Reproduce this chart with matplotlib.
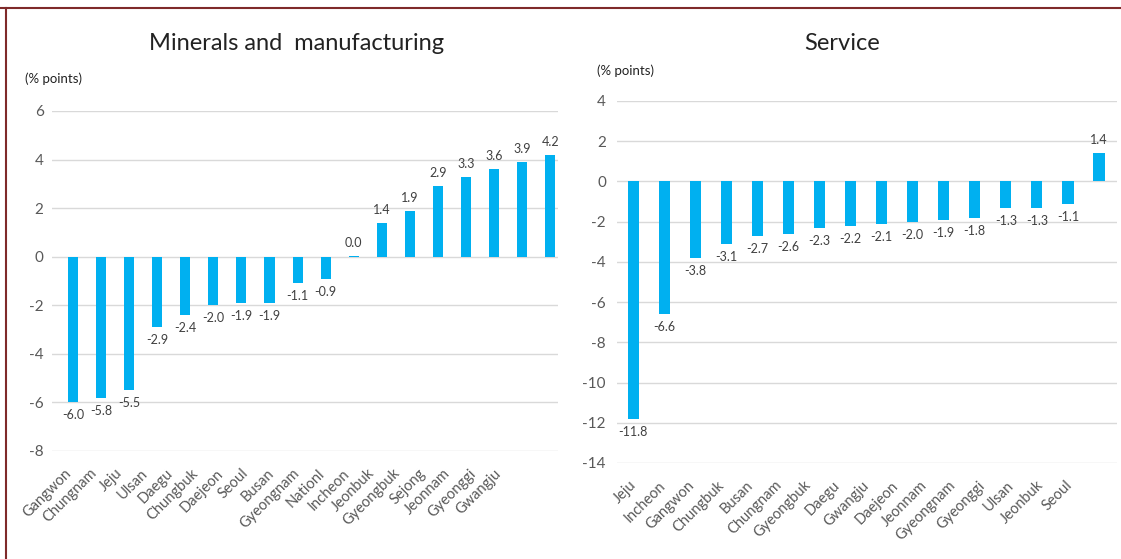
import matplotlib
matplotlib.use("Agg")
import matplotlib.pyplot as plt
from matplotlib.lines import Line2D

plt.rcParams['font.family'] = ['Lato', 'DejaVu Sans']

# left panel: minerals and manufacturing
mfg_regions = ['Gangwon', 'Chungnam', 'Jeju', 'Ulsan', 'Daegu', 'Chungbuk', 'Daejeon', 'Seoul',
               'Busan', 'Gyeongnam', 'Nationl', 'Incheon', 'Jeonbuk', 'Gyeongbuk', 'Sejong',
               'Jeonnam', 'Gyeonggi', 'Gwangju']
mfg_values = [-6.0, -5.8, -5.5, -2.9, -2.4, -2.0, -1.9, -1.9, -1.1, -0.9, 0.04, 1.4, 1.9, 2.9,
              3.3, 3.6, 3.9, 4.2]
mfg_ticks = [6, 4, 2, 0, -2, -4, -6, -8]

# right panel: service
svc_regions = ['Jeju', 'Incheon', 'Gangwon', 'Chungbuk', 'Busan', 'Chungnam', 'Gyeongbuk', 'Daegu',
               'Gwangju', 'Daejeon', 'Jeonnam', 'Gyeongnam', 'Gyeonggi', 'Ulsan', 'Jeonbuk', 'Seoul']
svc_values = [-11.8, -6.6, -3.8, -3.1, -2.7, -2.6, -2.3, -2.2, -2.1, -2.0, -1.9, -1.8, -1.3, -1.3,
              -1.1, 1.4]
svc_ticks = [4, 2, 0, -2, -4, -6, -8, -10, -12, -14]

BAR = '#00B0F0'
GRID = '#d9d9d9'
TXT = '#595959'

W, H = 1121, 559
fig = plt.figure(figsize=(W / 100, H / 100), dpi=100)


def px_axes(x0, x1, y0, y1):
    # y0 = top pixel, y1 = bottom pixel
    return fig.add_axes([x0 / W, 1 - y1 / H, (x1 - x0) / W, (y1 - y0) / H])


def draw(ax, names, vals, ticks, xlim, off, lab_start, lab_step):
    x = range(len(names))
    ax.bar(x, vals, width=0.36, color=BAR, zorder=3)
    for i, v in zip(x, vals):
        if v >= 0:
            ax.annotate('%.1f' % v, (i, v), xytext=(0, 5), textcoords='offset points',
                        ha='center', va='bottom', fontsize=9, color='#404040')
        else:
            ax.annotate('%.1f' % v, (i, v), xytext=(0, -5), textcoords='offset points',
                        ha='center', va='top', fontsize=9, color='#404040')
    ax.set_ylim(min(ticks), max(ticks))
    ax.set_xlim(*xlim)
    ax.set_yticks(ticks)
    ax.set_yticklabels([str(t) for t in ticks])
    # category labels in the source sit a bit tighter than the bars
    ax.set_xticks([lab_start + i * lab_step for i in x])
    ax.set_xticklabels(names, rotation=45, ha='right', rotation_mode='anchor')
    ax.tick_params(axis='both', length=0, colors=TXT)
    ax.tick_params(axis='y', labelsize=11, pad=off)
    ax.tick_params(axis='x', labelsize=10.5, pad=11)
    ax.grid(axis='y', color=GRID, linewidth=1, zorder=0)
    for s in ax.spines.values():
        s.set_visible(False)


ax1 = px_axes(52, 558, 111, 451)
draw(ax1, mfg_regions, mfg_values, mfg_ticks, (-0.75, 17.28), 6, -0.3, 0.9)

ax2 = px_axes(617, 1117, 101, 463)
draw(ax2, svc_regions, svc_values, svc_ticks, (-0.52, 15.58), 8, -0.12, 0.935)

fig.text(297 / W, 1 - 43 / H, 'Minerals and  manufacturing', ha='center', va='center',
         fontsize=17, color='#222222')
fig.text(842 / W, 1 - 43 / H, 'Service', ha='center', va='center', fontsize=17, color='#222222')
fig.text(25 / W, 1 - 79 / H, '(% points)', ha='left', va='center', fontsize=9.5, color='#222222')
fig.text(597 / W, 1 - 71 / H, '(% points)', ha='left', va='center', fontsize=9.5, color='#222222')

# dark red frame on top and left
fig.add_artist(Line2D([0, 1], [1 - 8 / H, 1 - 8 / H], color='#7f2a2a', linewidth=1.5))
fig.add_artist(Line2D([6 / W, 6 / W], [0, 1 - 8 / H], color='#7f2a2a', linewidth=1.5))

fig.savefig('out.png', dpi=100)
